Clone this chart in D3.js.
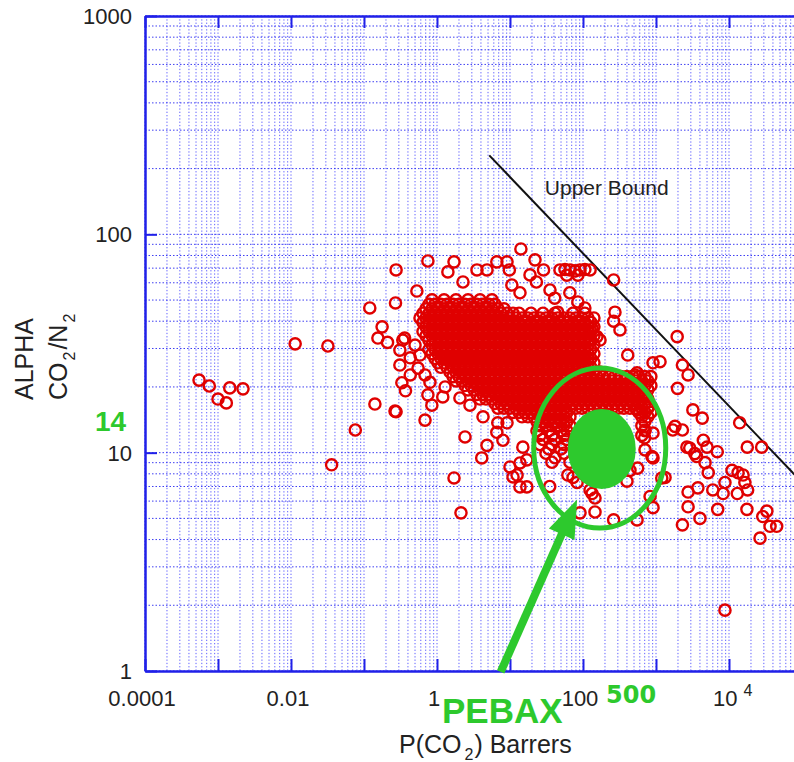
<!DOCTYPE html>
<html>
<head>
<meta charset="utf-8">
<script src="https://cdn.jsdelivr.net/npm/d3@7"></script>
<style>
  body { margin: 0; background: #fff; }
  text { font-family: "Liberation Sans", Arial, sans-serif; }
</style>
</head>
<body>
<svg id="chart"></svg>
<script>
const width = 794;
const height = 762;

// axes
const xDecades = [1e-4, 1e-3, 1e-2, 1e-1, 1, 10, 100, 1e3, 1e4, 1e5];
const yDecades = [1, 10, 100, 1000];
const xLabelValues = [1e-4, 1e-2, 1, 100];
const xLabels = ["0.0001", "0.01", "1", "100"];
const yLabels = ["1", "10", "100", "1000"];

// upper bound line, end points
const boundP = [5.2, 80000];
const boundAlpha = [230, 7.9];

// isolated polymers : P(CO2) in Barrers and CO2/N2 selectivity
const scatterP = [
  5.5e-4, 7.6e-4, 1.45e-3, 2.2e-3, 1.0e-3, 1.3e-3, 0.0114, 0.032, 0.076, 0.036,
  0.141, 0.266, 0.12, 0.27, 0.177, 0.155, 0.21, 0.34, 0.31, 0.33,
  0.37, 0.275, 0.75, 0.53, 1.71, 1.41, 2.27, 3.53, 4.84, 6.6,
  9.1, 9.8, 14.1, 18.8, 10.6, 13.7, 0.36, 0.31, 0.43, 0.55,
  0.275, 0.685, 0.75, 0.85, 1.2, 1.29, 2.06, 2.83, 2.42, 4.27,
  1.71, 4.1, 4.84, 6.6, 8.0, 6.8, 9.1, 11, 13.7, 17,
  10, 13.7, 15, 17, 12.5, 2.13, 22, 28.8, 23, 35.3,
  41, 48.4, 56.7, 66.4, 77.7, 91, 106, 125, 60, 85,
  263, 66, 106, 85, 45, 274, 263, 321, 155, 133,
  171, 1950, 410, 910, 1135, 2300, 2750, 1970, 3200, 4300,
  4450, 1700, 2300, 2650, 550, 780, 910, 700, 910, 1200,
  830, 550, 2300, 146, 91, 133, 73, 35, 14000, 17800,
  28000, 2900, 5000, 6900, 3600, 4700, 5200, 11000, 13300, 15600,
  16500, 8800, 8300, 6000, 13000, 18000, 2750, 3750, 2750, 7000,
  17600, 4000, 33000, 29000, 36500, 45000, 26600, 8800, 1820, 3400,
  910, 263, 146, 125, 83, 62, 400, 440, 560, 1330,
  880, 707, 707, 550, 515, 0.5, 0.585, 0.685, 0.43, 0.8
];
const scatterAlpha = [
  21.5, 20.2, 19.8, 19.6, 17.6, 16.9, 31.5, 30.8, 12.7, 8.8,
  16.7, 15.5, 46, 48.5, 37.7, 33.5, 32, 32.8, 29.5, 20.9,
  19.2, 68.7, 75.5, 55, 74.8, 67.3, 60.5, 68.7, 68.7, 74.8,
  74.8, 68.7, 85.7, 65.2, 58.6, 54, 33.5, 25.2, 27.2, 24.4,
  15.4, 14.1, 18.4, 16.5, 18, 20, 17.8, 16.5, 11.8, 14.6,
  7.66, 9.46, 10.8, 12.4, 11.4, 13.7, 13.7, 7.74, 6.97, 6.97,
  8.6, 8.97, 10.6, 9.27, 7.9, 5.3, 76.4, 68.7, 60.5, 55.6,
  51, 68.7, 69, 68.7, 68, 68.7, 69, 68.7, 65, 65,
  61.8, 54, 46, 49, 44, 44, 40, 36.5, 34, 37,
  32.8, 34, 28, 25.8, 26.1, 25.2, 22.7, 19.7, 15.7, 14.4,
  11.4, 12.7, 12.7, 10.6, 23.2, 16.2, 12.3, 11.7, 9.46, 7.66,
  6.3, 4.92, 4.67, 5.35, 5.3, 6.5, 7.7, 7.0, 13.7, 10.6,
  10.6, 10.5, 10.6, 10.1, 9.6, 9, 8.1, 8.3, 8.1, 7.9,
  7.3, 7.3, 6.5, 6.75, 6.5, 6.75, 6.6, 6.9, 5.65, 5.5,
  5.5, 5, 5.4, 5.1, 4.6, 4.6, 4.06, 1.9, 13.2, 9.9,
  5.6, 4.92, 6.2, 6.75, 7.3, 7.9, 7.4, 8.3, 8.5, 7.7,
  9.6, 10.3, 12.7, 15.7, 22.7, 31.1, 28, 22.7, 22.7, 21
];

// dense core of the cloud, read row by row: selectivity of each row, then its P values
const rowAlpha = [50.1, 47.8, 45.6, 43.5, 41.4, 39.5, 37.7, 35.9, 34.3, 32.7,
  31.2, 29.7, 28.4, 27.0, 25.8, 24.6, 23.4, 22.3, 21.3, 20.3,
  19.4, 18.5, 17.6, 16.8, 16.0, 15.3, 14.6, 13.9, 13.3, 12.6,
  12.0, 11.5, 10.9, 10.4, 9.94, 9.48, 9.04];
const rowP = [
  [0.854, 1.25, 1.82, 2.66, 3.88, 5.66],
  [0.777, 0.939, 1.13, 1.37, 1.66, 2.0, 2.42, 2.92, 3.53, 4.26, 5.15, 6.22],
  [0.707, 0.854, 1.03, 1.25, 1.51, 1.82, 2.2, 2.66, 3.21, 3.88, 4.69, 5.66, 6.84, 8.27],
  [0.643, 0.777, 0.939, 1.13, 1.37, 1.66, 2.0, 2.42, 2.92, 3.53, 4.26, 5.15, 6.22, 7.52, 9.09,
   11, 13.3, 19.4, 28.3, 41.3, 72.8, 106],
  [0.585, 0.707, 0.854, 1.03, 1.25, 1.51, 1.82, 2.2, 2.66, 3.21, 3.88, 4.69, 5.66, 6.84, 8.27,
   9.99, 12.1, 14.6, 17.6, 21.3, 25.7, 31.1, 37.5, 45.3, 54.8, 66.2, 80, 96.6, 117, 141],
  [0.643, 0.777, 0.939, 1.13, 1.37, 1.66, 2.0, 2.42, 2.92, 3.53, 4.26, 5.15, 6.22, 7.52, 9.09,
   11, 13.3, 16, 19.4, 23.4, 28.3, 34.1, 41.3, 49.8, 60.2, 72.8, 87.9, 106, 128],
  [0.707, 0.854, 1.03, 1.25, 1.51, 1.82, 2.2, 2.66, 3.21, 3.88, 4.69, 5.66, 6.84, 8.27,
   9.99, 12.1, 14.6, 17.6, 21.3, 25.7, 31.1, 37.5, 45.3, 54.8, 66.2, 80, 96.6, 117, 141],
  [0.643, 0.777, 0.939, 1.13, 1.37, 1.66, 2.0, 2.42, 2.92, 3.53, 4.26, 5.15, 6.22, 7.52, 9.09,
   11, 13.3, 16, 19.4, 23.4, 28.3, 34.1, 41.3, 49.8, 60.2, 72.8, 87.9, 106, 128],
  [0.707, 0.854, 1.03, 1.25, 1.51, 1.82, 2.2, 2.66, 3.21, 3.88, 4.69, 5.66, 6.84, 8.27,
   9.99, 12.1, 14.6, 17.6, 21.3, 25.7, 31.1, 37.5, 45.3, 54.8, 66.2, 80, 96.6, 117, 141],
  [0.777, 0.939, 1.13, 1.37, 1.66, 2.0, 2.42, 2.92, 3.53, 4.26, 5.15, 6.22, 7.52, 9.09,
   11, 13.3, 16, 19.4, 23.4, 28.3, 34.1, 41.3, 49.8, 60.2, 72.8, 87.9, 106, 128],
  [0.854, 1.03, 1.25, 1.51, 1.82, 2.2, 2.66, 3.21, 3.88, 4.69, 5.66, 6.84, 8.27,
   9.99, 12.1, 14.6, 17.6, 21.3, 25.7, 31.1, 37.5, 45.3, 54.8, 66.2, 80, 96.6, 117, 141],
  [0.777, 0.939, 1.13, 1.37, 1.66, 2.0, 2.42, 2.92, 3.53, 4.26, 5.15, 6.22, 7.52, 9.09,
   11, 13.3, 16, 19.4, 23.4, 28.3, 34.1, 41.3, 49.8, 60.2, 72.8, 87.9, 106, 128],
  [0.854, 1.03, 1.25, 1.51, 1.82, 2.2, 2.66, 3.21, 3.88, 4.69, 5.66, 6.84, 8.27,
   9.99, 12.1, 14.6, 17.6, 21.3, 25.7, 31.1, 37.5, 45.3, 54.8, 66.2, 80, 96.6, 117, 141],
  [0.939, 1.13, 1.37, 1.66, 2.0, 2.42, 2.92, 3.53, 4.26, 5.15, 6.22, 7.52, 9.09,
   11, 13.3, 16, 19.4, 23.4, 28.3, 34.1, 41.3, 49.8, 60.2, 72.8, 87.9, 106, 128],
  [1.03, 1.25, 1.51, 1.82, 2.2, 2.66, 3.21, 3.88, 4.69, 5.66, 6.84, 8.27,
   9.99, 12.1, 14.6, 17.6, 21.3, 25.7, 31.1, 37.5, 45.3, 54.8, 66.2, 80, 96.6, 117, 141],
  [1.13, 1.37, 1.66, 2.0, 2.42, 2.92, 3.53, 4.26, 5.15, 6.22, 7.52, 9.09,
   11, 13.3, 16, 19.4, 23.4, 28.3, 34.1, 41.3, 49.8, 60.2, 72.8, 87.9, 106, 128],
  [1.51, 1.82, 2.2, 2.66, 3.21, 3.88, 4.69, 5.66, 6.84, 8.27,
   9.99, 12.1, 14.6, 17.6, 21.3, 25.7, 31.1, 37.5, 45.3, 54.8, 66.2, 80, 96.6, 117, 141, 170],
  [1.66, 2.0, 2.42, 2.92, 3.53, 4.26, 5.15, 6.22, 7.52, 9.09,
   11, 13.3, 16, 19.4, 23.4, 28.3, 34.1, 41.3, 49.8, 60.2, 72.8, 87.9, 106, 128,
   155, 187, 226, 273, 330, 399, 482, 583, 704, 850],
  [1.82, 2.2, 2.66, 3.21, 3.88, 4.69, 5.66, 6.84, 8.27,
   9.99, 12.1, 14.6, 17.6, 21.3, 25.7, 31.1, 37.5, 45.3, 54.8, 66.2, 80, 96.6, 117, 141,
   170, 206, 249, 301, 363, 439, 530, 640, 774],
  [2.42, 2.92, 3.53, 4.26, 5.15, 6.22, 7.52, 9.09,
   11, 13.3, 16, 19.4, 23.4, 28.3, 34.1, 41.3, 49.8, 60.2, 72.8, 87.9, 106, 128,
   155, 187, 226, 273, 330, 399, 482, 583, 704, 850],
  [2.66, 3.21, 3.88, 4.69, 5.66, 6.84, 8.27,
   9.99, 12.1, 14.6, 17.6, 21.3, 25.7, 31.1, 37.5, 45.3, 54.8, 66.2, 80, 96.6, 117, 141,
   170, 206, 249, 301, 363, 439, 530, 640, 774],
  [3.53, 4.26, 5.15, 6.22, 7.52, 9.09,
   11, 13.3, 16, 19.4, 23.4, 28.3, 34.1, 41.3, 49.8, 60.2, 72.8, 87.9, 106, 128,
   155, 187, 226, 273, 330, 399, 482, 583, 704],
  [3.88, 4.69, 5.66, 6.84, 8.27,
   9.99, 12.1, 14.6, 17.6, 21.3, 25.7, 31.1, 37.5, 45.3, 54.8, 66.2, 80, 96.6, 117, 141,
   170, 206, 249, 301, 363, 439, 530, 640, 774],
  [6.22, 7.52, 9.09,
   11, 13.3, 16, 19.4, 23.4, 28.3, 34.1, 41.3, 49.8, 60.2, 72.8, 87.9, 106, 128,
   155, 187, 226, 273, 330, 399, 482, 583, 704],
  [6.84, 8.27,
   9.99, 12.1, 14.6, 17.6, 21.3, 25.7, 31.1, 37.5, 45.3, 54.8, 66.2, 80, 96.6, 117, 141,
   170, 206, 249, 301, 363, 439, 530, 640, 774],
  [11, 13.3, 16, 19.4, 23.4, 28.3, 34.1, 41.3, 49.8, 60.2, 583, 704, 850],
  [14.6, 17.6, 21.3, 25.7, 31.1, 37.5, 45.3, 54.8, 66.2, 640, 774],
  [23.4, 28.3, 34.1, 41.3, 49.8, 60.2, 704],
  [25.7, 31.1, 37.5, 45.3, 54.8, 66.2, 640],
  [23.4, 34.1, 49.8, 60.2, 704],
  [25.7, 37.5, 54.8, 640],
  [28.3, 41.3, 60.2],
  [25.7, 37.5, 54.8],
  [34.1, 49.8],
  [31.1, 54.8],
  [41.3],
  [37.5, 66.2]
];

const blue = "#2020e8";
const green = "#2dc92d";
const red = "#e00000";

const svg = d3.select("#chart").attr("width", width).attr("height", height);

const x = d3.scaleLog().domain([1e-4, 1e5]).range([145, 802]);
const y = d3.scaleLog().domain([1, 1000]).range([671, 16]);

// grille pointillée (2..9 de chaque décade)
const gridX = xDecades.slice(0, -1).flatMap(d => d3.range(1, 10).map(m => d * m)).filter(v => x(v) < width);
const gridY = yDecades.slice(0, -1).flatMap(d => d3.range(1, 10).map(m => d * m)).concat([1000]);

svg.append("g")
  .selectAll("line")
  .data(gridX)
  .enter()
  .append("line")
  .attr("x1", d => x(d)).attr("x2", d => x(d))
  .attr("y1", 16).attr("y2", 671)
  .attr("stroke", "#2c2cff")
  .attr("stroke-opacity", 0.75)
  .attr("stroke-dasharray", "1.3,2");

svg.append("g")
  .selectAll("line")
  .data(gridY)
  .enter()
  .append("line")
  .attr("x1", 145).attr("x2", width)
  .attr("y1", d => y(d)).attr("y2", d => y(d))
  .attr("stroke", "#1c1cf0")
  .attr("stroke-opacity", 0.85)
  .attr("stroke-dasharray", "1.5,2");

// upper bound
svg.append("line")
  .attr("x1", x(boundP[0])).attr("y1", y(boundAlpha[0]))
  .attr("x2", x(boundP[1])).attr("y2", y(boundAlpha[1]))
  .attr("stroke", "#111")
  .attr("stroke-width", 2);

svg.append("text")
  .attr("x", x(30)).attr("y", y(151))
  .attr("font-size", 21)
  .attr("fill", "#222")
  .text("Upper Bound");

// points
const points = scatterP.map((p, i) => ({ p: p, a: scatterAlpha[i] }));
rowP.forEach((row, i) => row.forEach(p => points.push({ p: p, a: rowAlpha[i] })));

svg.append("g")
  .selectAll("circle")
  .data(points)
  .enter()
  .append("circle")
  .attr("cx", d => x(d.p))
  .attr("cy", d => y(d.a))
  .attr("r", 5.6)
  .attr("fill", "none")
  .attr("stroke", red)
  .attr("stroke-width", 2.4);

// axes
function styleAxis(g) {
  g.select(".domain").attr("stroke", blue).attr("stroke-width", 2.5);
  g.selectAll(".tick line").attr("stroke", blue).attr("stroke-width", 2);
}
svg.append("g").attr("transform", "translate(0,671)")
  .call(d3.axisBottom(x).tickValues(xDecades).tickSize(-12).tickSizeOuter(0).tickFormat(""))
  .call(styleAxis);
svg.append("g").attr("transform", "translate(0,16)")
  .call(d3.axisTop(x).tickValues(xDecades).tickSize(-12).tickSizeOuter(0).tickFormat(""))
  .call(styleAxis);
svg.append("g").attr("transform", "translate(145,0)")
  .call(d3.axisLeft(y).tickValues(yDecades).tickSize(-12).tickSizeOuter(0).tickFormat(""))
  .call(styleAxis);

// tick labels
svg.append("g")
  .selectAll("text")
  .data(yDecades)
  .enter()
  .append("text")
  .attr("x", 132)
  .attr("y", d => y(d))
  .attr("dy", "0.36em")
  .attr("text-anchor", "end")
  .attr("font-size", 22)
  .attr("fill", "#222")
  .text((d, i) => yLabels[i]);

svg.append("g")
  .selectAll("text")
  .data(xLabelValues)
  .enter()
  .append("text")
  .attr("x", d => x(d) - 3)
  .attr("y", 706)
  .attr("text-anchor", "middle")
  .attr("font-size", 22)
  .attr("fill", "#222")
  .text((d, i) => xLabels[i]);

const sup = svg.append("text")
  .attr("x", x(1e4) - 16)
  .attr("y", 706)
  .attr("font-size", 22)
  .attr("fill", "#222");
sup.append("tspan").text("10");
sup.append("tspan").attr("dx", 6).attr("dy", -10).attr("font-size", 16).text("4");

// axis titles
const xt = svg.append("text")
  .attr("x", 399).attr("y", 753)
  .attr("font-size", 25)
  .attr("fill", "#222");
xt.append("tspan").text("P(CO");
xt.append("tspan").attr("dx", 3).attr("dy", 7).attr("font-size", 16).text("2");
xt.append("tspan").attr("dx", 1).attr("dy", -7).text(") Barrers");

svg.append("text")
  .attr("transform", "translate(33,400) rotate(-90)")
  .attr("font-size", 25)
  .attr("fill", "#222")
  .text("ALPHA");

const yt = svg.append("text")
  .attr("transform", "translate(67,400) rotate(-90)")
  .attr("font-size", 25)
  .attr("fill", "#222");
yt.append("tspan").text("CO");
yt.append("tspan").attr("dx", 2).attr("dy", 8).attr("font-size", 16).text("2");
yt.append("tspan").attr("dx", 2).attr("dy", -8).text("/N");
yt.append("tspan").attr("dx", 2).attr("dy", 8).attr("font-size", 16).text("2");

// annotations vertes (PEBAX)
const ellipseCenter = { p: 175, a: 10.5 };
svg.append("ellipse")
  .attr("cx", x(ellipseCenter.p) - 1).attr("cy", y(ellipseCenter.a))
  .attr("rx", 66).attr("ry", 80)
  .attr("fill", "none")
  .attr("stroke", green)
  .attr("stroke-width", 5);
svg.append("ellipse")
  .attr("cx", x(ellipseCenter.p) + 1).attr("cy", y(ellipseCenter.a) + 1)
  .attr("rx", 34).attr("ry", 40)
  .attr("fill", green);

const arrowTail = [x(7.45), y(0.99)];
const arrowTip = [x(83), y(6.1)];
const dxA = arrowTip[0] - arrowTail[0], dyA = arrowTip[1] - arrowTail[1];
const len = Math.hypot(dxA, dyA);
const ux = dxA / len, uy = dyA / len;
const base = [arrowTip[0] - 38 * ux, arrowTip[1] - 38 * uy];
svg.append("line")
  .attr("x1", arrowTail[0]).attr("y1", arrowTail[1])
  .attr("x2", base[0] + 4 * ux).attr("y2", base[1] + 4 * uy)
  .attr("stroke", green)
  .attr("stroke-width", 8);
svg.append("path")
  .attr("d", d3.line()([
    arrowTip,
    [base[0] - 14 * uy, base[1] + 14 * ux],
    [base[0] + 14 * uy, base[1] - 14 * ux]
  ]) + "Z")
  .attr("fill", green);

svg.append("text")
  .attr("x", 95).attr("y", 431)
  .attr("font-size", 28).attr("font-weight", "bold")
  .attr("fill", green)
  .text("14");

svg.append("text")
  .attr("x", 606).attr("y", 703)
  .style("font-family", "'DejaVu Sans', sans-serif")
  .attr("font-size", 24).attr("font-weight", "bold")
  .attr("fill", green)
  .text("500");

svg.append("text")
  .attr("x", 442).attr("y", 723)
  .attr("font-size", 35).attr("font-weight", "bold")
  .attr("fill", green)
  .text("PEBAX");
</script>
</body>
</html>
